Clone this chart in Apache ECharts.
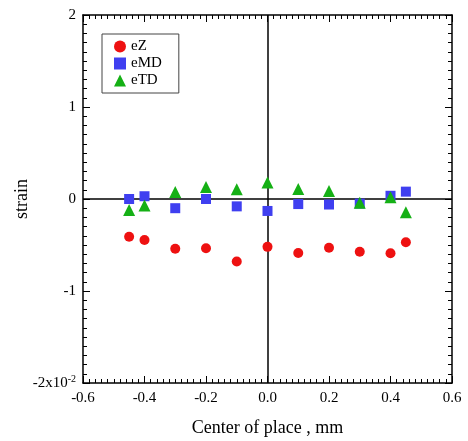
<!DOCTYPE html>
<html>
<head>
<meta charset="utf-8">
<script src="https://cdn.jsdelivr.net/npm/echarts@6/dist/echarts.min.js"></script>
<style>
  html, body { margin: 0; padding: 0; background: #fff; }
  #main { width: 468px; height: 441px; }
</style>
</head>
<body>
<div id="main"></div>
<script>
// positions along the sample (mm)
const xPos = [-0.45, -0.40, -0.30, -0.20, -0.10, 0.00, 0.10, 0.20, 0.30, 0.40, 0.45];
// strain values (x10^-2)
const eZ  = [-0.41, -0.445, -0.54, -0.535, -0.68, -0.52, -0.587, -0.53, -0.573, -0.59, -0.47];
const eMD = [0.00, 0.03, -0.10, 0.00, -0.08, -0.13, -0.055, -0.06, -0.05, 0.035, 0.08];
const eTD = [-0.12, -0.07, 0.075, 0.13, 0.105, 0.18, 0.11, 0.087, -0.04, 0.02, -0.145];

const serif = '"Liberation Serif", "DejaVu Serif", serif';

function pairs(ys) {
  return xPos.map((x, i) => [x, ys[i]]);
}

let chartDom = document.getElementById('main');
let myChart = echarts.init(chartDom);
let option;

const tickStyle = { color: '#000', width: 1 };

option = {
  animation: false,
  backgroundColor: '#fff',
  grid: { left: 83, right: 16, top: 15, bottom: 58, containLabel: false, outerBoundsMode: 'none' },
  legend: {
    orient: 'vertical',
    left: 102,
    top: 34,
    padding: [5, 17, 5, 12],
    itemGap: 2,
    itemWidth: 12,
    itemHeight: 12,
    borderColor: '#444',
    borderWidth: 1,
    textStyle: { fontFamily: serif, fontSize: 15, color: '#000' },
    data: ['eZ', 'eMD', 'eTD']
  },
  xAxis: [
    {
      type: 'value', min: -0.6, max: 0.6, interval: 0.2,
      name: 'Center of place , mm', nameLocation: 'middle', nameGap: 36,
      nameMoveOverlap: false,
      nameTextStyle: { fontFamily: serif, fontSize: 18, color: '#000' },
      axisLine: { onZero: false, lineStyle: { color: '#000', width: 1.5 } },
      axisTick: { inside: true, length: 7, lineStyle: tickStyle },
      minorTick: { show: true, splitNumber: 10, length: 4, lineStyle: tickStyle },
      axisLabel: {
        fontFamily: serif, fontSize: 15, color: '#000', margin: 8,
        formatter: v => v.toFixed(1)
      },
      splitLine: { show: false }
    },
    {
      type: 'value', min: -0.6, max: 0.6, interval: 0.2, position: 'top',
      axisLine: { onZero: false, lineStyle: { color: '#000', width: 1.5 } },
      axisTick: { inside: true, length: 7, lineStyle: tickStyle },
      minorTick: { show: true, splitNumber: 10, length: 4, lineStyle: tickStyle },
      axisLabel: { show: false },
      splitLine: { show: false }
    }
  ],
  yAxis: [
    {
      type: 'value', min: -2, max: 2, interval: 1,
      name: 'strain', nameLocation: 'middle', nameGap: 52, nameRotate: 90,
      nameMoveOverlap: false,
      nameTextStyle: { fontFamily: serif, fontSize: 18, color: '#000' },
      axisLine: { onZero: false, lineStyle: { color: '#000', width: 1.5 } },
      axisTick: { inside: true, length: 7, lineStyle: tickStyle },
      minorTick: { show: true, splitNumber: 10, length: 4, lineStyle: tickStyle },
      axisLabel: {
        fontFamily: serif, fontSize: 15, color: '#000', margin: 7,
        formatter: v => v === -2 ? '-2x10{sup|-2}' : String(v),
        rich: { sup: { fontFamily: serif, fontSize: 10, color: '#000', verticalAlign: 'top', padding: [0, 0, 8, 0] } }
      },
      splitLine: { show: false }
    },
    {
      type: 'value', min: -2, max: 2, interval: 1, position: 'right',
      axisLine: { onZero: false, lineStyle: { color: '#000', width: 1.5 } },
      axisTick: { inside: true, length: 7, lineStyle: tickStyle },
      minorTick: { show: true, splitNumber: 10, length: 4, lineStyle: tickStyle },
      axisLabel: { show: false },
      splitLine: { show: false }
    }
  ],
  series: [
    {
      name: 'eZ', type: 'scatter', symbol: 'circle', symbolSize: 10,
      itemStyle: { color: '#ee1111', opacity: 1 },
      data: pairs(eZ),
      z: 3,
      markLine: {
        silent: true, symbol: 'none', label: { show: false },
        lineStyle: { color: '#000', width: 1.5, type: 'solid' },
        data: [{ xAxis: 0 }, { yAxis: 0 }],
        z: 1
      }
    },
    {
      name: 'eMD', type: 'scatter', symbol: 'rect', symbolSize: 10,
      itemStyle: { color: '#3f3ff0', opacity: 1 },
      data: pairs(eMD),
      z: 3
    },
    {
      name: 'eTD', type: 'scatter', symbol: 'triangle', symbolSize: 12,
      itemStyle: { color: '#15b015', opacity: 1 },
      data: pairs(eTD),
      z: 4
    }
  ]
};

option && myChart.setOption(option);
</script>
</body>
</html>
